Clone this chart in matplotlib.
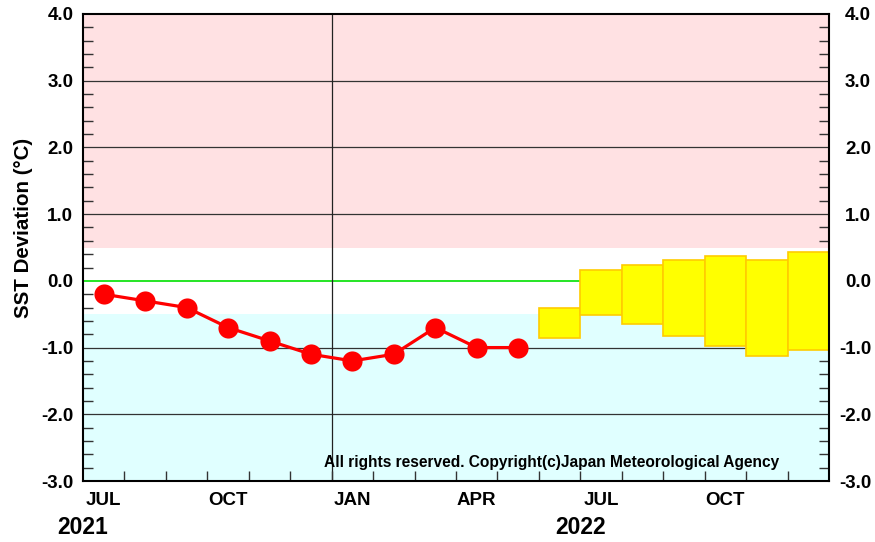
import matplotlib
matplotlib.use("Agg")
import matplotlib.pyplot as plt
from matplotlib.patches import Rectangle
from matplotlib.ticker import MultipleLocator, FixedLocator
from matplotlib.transforms import blended_transform_factory

plt.rcParams['font.family'] = ['Liberation Sans', 'DejaVu Sans']

# month index: 0 = Jul 2021 (center 0.5), ... 17 = Dec 2022
obs_months = ["2021-07", "2021-08", "2021-09", "2021-10", "2021-11", "2021-12",
              "2022-01", "2022-02", "2022-03", "2022-04", "2022-05"]
obs_values = [-0.2, -0.3, -0.4, -0.7, -0.9, -1.1, -1.2, -1.1, -0.7, -1.0, -1.0]

fc_months = ["2022-06", "2022-07", "2022-08", "2022-09", "2022-10", "2022-11", "2022-12"]
fc_low = [-0.86, -0.51, -0.64, -0.83, -0.98, -1.12, -1.03]
fc_high = [-0.41, 0.17, 0.24, 0.32, 0.38, 0.31, 0.43]

month_labels = ["JUL", "OCT", "JAN", "APR", "JUL", "OCT"]
month_label_pos = [0, 3, 6, 9, 12, 15]
year_labels = ["2021", "2022"]
year_label_pos = [0, 12]
y_ticks = [-3, -2, -1, 0, 1, 2, 3, 4]

def idx(m):
    y, mo = map(int, m.split("-"))
    return (y - 2021) * 12 + (mo - 7)

W, H = 875, 542
fig = plt.figure(figsize=(W/100, H/100), dpi=100)
ax = fig.add_axes([83/W, (H-481)/H, 746/W, 467/H])
ax.set_xlim(0, 18)
ax.set_ylim(-3, 4)

ax.axhspan(0.5, 4, color='#FFE1E3', zorder=0, lw=0)
ax.axhspan(-3, -0.5, color='#E0FFFF', zorder=0, lw=0)
for yv in [-2, -1, 1, 2, 3]:
    ax.axhline(yv, color='#333333', lw=0.9, zorder=1)
ax.axhline(0, color='#00E000', lw=1.2, zorder=1)
ax.axvline(6, color='#222222', lw=0.9, zorder=1)

for m, lo, hi in zip(fc_months, fc_low, fc_high):
    i = idx(m)
    ax.add_patch(Rectangle((i, lo), 1, hi - lo, facecolor='#FFFF00',
                           edgecolor='#FFCC00', lw=1.2, zorder=2))

xs = [idx(m) + 0.5 for m in obs_months]
ax.plot(xs, obs_values, color='#FF0000', lw=2.3, marker='o', ms=14.5,
        markeredgewidth=0, zorder=3)

labs = [f"{v:.1f}" for v in y_ticks]
ax.set_yticks(y_ticks)
ax.set_yticklabels(labs, fontweight='bold')
ax.yaxis.set_minor_locator(MultipleLocator(0.2))
ax.tick_params(axis='y', which='minor', direction='in', left=True, right=True,
               length=7, width=1, color='#333333')
ax.tick_params(axis='y', which='major', length=0, left=True, right=False,
               labelsize=13.5, pad=7)

# right-side labels, right-aligned as in the reference
tr = blended_transform_factory(ax.transAxes, ax.transData)
for v, lab in zip(y_ticks, labs):
    ax.text((871 - 83) / 746, v, lab, transform=tr, ha='right', va='center_baseline',
            fontsize=13.5, fontweight='bold', clip_on=False)

ax.xaxis.set_major_locator(FixedLocator(range(1, 18)))
ax.tick_params(axis='x', which='major', direction='in', length=7, width=1,
               color='#333333', labelbottom=False, top=False)

for lab, p in zip(month_labels, month_label_pos):
    ax.text(p + 0.5, (481 - 500.5) / 467, lab, transform=ax.get_xaxis_transform(),
            ha='center', va='center', fontsize=13.5, fontweight='bold')
for lab, p in zip(year_labels, year_label_pos):
    ax.text(p, (481 - 527) / 467, lab, transform=ax.get_xaxis_transform(),
            ha='center', va='center', fontsize=16.5, fontweight='bold')

for s in ax.spines.values():
    s.set_linewidth(1.5)

ax.text(16.8, -2.73, "All rights reserved. Copyright(c)Japan Meteorological Agency",
        ha='right', va='center', fontsize=11.2, fontweight='bold', zorder=4)

fig.text(24/W, 1 - 228/H, "SST Deviation (°C)", rotation=90, ha='center', va='center',
         fontsize=14.8, fontweight='bold')

fig.savefig("out.png", dpi=100)
